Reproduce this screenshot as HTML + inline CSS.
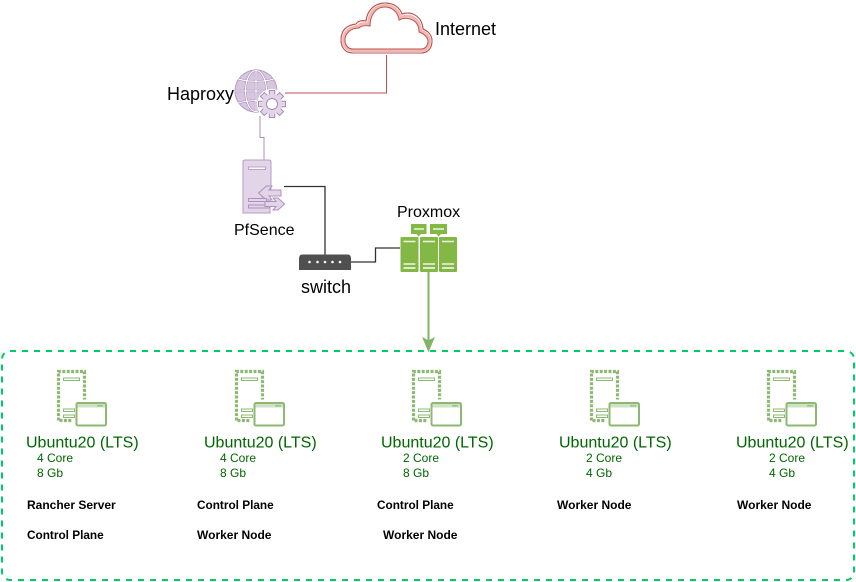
<!DOCTYPE html>
<html><head><meta charset="utf-8"><style>
html,body{margin:0;padding:0;background:#fff;width:856px;height:582px;overflow:hidden}
svg{display:block}
text{font-family:"Liberation Sans",sans-serif}
.g{fill:#006600}
.b{font-size:12px;font-weight:bold;fill:#000}
.c{font-size:11.800px;font-weight:bold;fill:#000}
.t{font-size:18px;fill:#000}
</style></head><body>
<svg width="856" height="582" viewBox="0 0 856 582" xmlns="http://www.w3.org/2000/svg">
<defs>
<g id="vm">
<path d="M0 49V0H26V28" fill="none" stroke="#8db873" stroke-width="3.200" stroke-dasharray="3 1.400"/>
<path d="M1 49H14" fill="none" stroke="#8db873" stroke-width="3.200" stroke-dasharray="3 1.400"/>
<rect x="5" y="6.500" width="16" height="2.500" fill="#fff" stroke="#8db873" stroke-width="1"/>
<rect x="5" y="37.500" width="11" height="2.500" fill="#fff" stroke="#8db873" stroke-width="1"/>
<rect x="5" y="43.500" width="11" height="2.500" fill="#fff" stroke="#8db873" stroke-width="1"/>
<rect x="18" y="31.500" width="29.500" height="22.500" rx="1.500" fill="#fff" stroke="#8db873" stroke-width="2"/>
<rect x="19" y="32.500" width="27.500" height="3.500" fill="#cfe2c2"/>
<path d="M39 34.200h6" stroke="#7aa660" stroke-width="1.500" stroke-dasharray="1.200 .8"/>
</g>
<g id="srv">
<rect x="0" y="0" width="18" height="35" rx="1" fill="#82b843"/>
<path d="M3 4.500H15M3 27H15" stroke="#eef5e4" stroke-width="1.400"/>
<path d="M3 31H15" stroke="#dfeccb" stroke-width="2"/>
</g>
<rect id="tooth" x="-2.800" y="-13.500" width="5.600" height="6" fill="#e1d5e7" stroke="#a084b0" stroke-width=".9"/>
</defs>

<!-- cloud -->
<path d="M353 53C344 53 341 46 341 40C341 31 346 25 356 24C358 21 361 20 366 21C367 11 374 3 385 3C394 3 400 8 402 14C410 11 422 15 423 29C430 32 432 36 432 41C432 48 428 53 421 53Z" fill="#fff" stroke="#b85450" stroke-width="1"/>
<path d="M353 50.500C347 50.500 343.500 46 343.500 40C343.500 33 349 27 358 26.500C360 24 363 23 368.500 24C369 13 375 5.500 385 5.500C393 5.500 399 11 400.500 17.500C408 14 420 17 420.500 31C427 33 429.500 37 429.500 41C429.500 47 426 50.500 421 50.500Z" fill="#fff" stroke="#f2b6b3" stroke-width="3"/>
<path d="M353 53C344 53 341 46 341 40C341 31 346 25 356 24C358 21 361 20 366 21C367 11 374 3 385 3C394 3 400 8 402 14C410 11 422 15 423 29C430 32 432 36 432 41C432 48 428 53 421 53Z" fill="none" stroke="#b85450" stroke-width="1"/>
<path d="M353 49C348 49 345 45 345 40C345 34 350 28 359 28C361 26 364 25 370 26C370 15 376 7 385 7C392 7 398 12 399 20C407 16 419 19 419 32C425 34 428 38 428 41C428 46 425 49 421 49Z" fill="#fff" stroke="#b85450" stroke-width="1"/>
<text x="435" y="35" class="t">Internet</text>

<!-- red connector -->
<path d="M285 93H386.500V55" fill="none" stroke="#b85450" stroke-width="1"/>

<!-- globe -->
<circle cx="256" cy="91" r="21" fill="#d6c6e0" stroke="#b79cc4" stroke-width="1"/>
<g fill="none" stroke="#a98bb8" stroke-width="2.200">
<ellipse cx="256" cy="91" rx="10.500" ry="20.500"/>
<path d="M256 70V112M235 91H277M238.500 79C247 82 265 82 273.500 79M238.500 103C247 100 265 100 273.500 103"/>
</g>
<g fill="none" stroke="#fff" stroke-width="1.100">
<ellipse cx="256" cy="91" rx="10.500" ry="20.500"/>
<path d="M256 70V112M235 91H277M238.500 79C247 82 265 82 273.500 79M238.500 103C247 100 265 100 273.500 103"/>
</g>
<!-- gear -->
<circle cx="272" cy="104" r="15" fill="#fff"/>
<g transform="translate(272,104)">
<use href="#tooth"/>
<use href="#tooth" transform="rotate(45)"/>
<use href="#tooth" transform="rotate(90)"/>
<use href="#tooth" transform="rotate(135)"/>
<use href="#tooth" transform="rotate(180)"/>
<use href="#tooth" transform="rotate(225)"/>
<use href="#tooth" transform="rotate(270)"/>
<use href="#tooth" transform="rotate(315)"/>
<circle r="10" fill="#e1d5e7"/>
<circle r="5.500" fill="#fff" stroke="#a084b0" stroke-width=".9"/>
</g>
<text x="167" y="100" class="t">Haproxy</text>

<!-- purple connector -->
<path d="M260 116V137.500H264V160" fill="none" stroke="#9673a6" stroke-width="1" opacity=".8"/>

<!-- pfsense -->
<path d="M245 160H269Q271 160 271 162V190H262V197H270V213H243V162Q243 160 245 160Z" fill="#e1d5e7" stroke="#b79cc4" stroke-width="1"/>
<rect x="248.500" y="167" width="17" height="2.500" fill="#fff" stroke="#b79cc4" stroke-width=".9"/>
<g fill="#e1d5e7" stroke="#b090c0" stroke-width="1">
<path d="M281 190H269L272 186H266.500L258.500 193L266.500 200H272L269 196H281Z"/>
<rect x="248.500" y="198.500" width="18" height="3"/>
<rect x="248.500" y="205" width="21" height="3"/>
<path d="M265 201.500H276L273 198H278L284.500 204L278 210H273L276 206.500H265Z"/>
</g>
<text x="234" y="235" style="font-size:16px;fill:#000">PfSence</text>

<!-- black connectors -->
<path d="M284 186.500H325V255" fill="none" stroke="#333" stroke-width="1.300"/>
<path d="M350 262H375.500V248H400" fill="none" stroke="#333" stroke-width="1.300"/>

<!-- switch -->
<path d="M302 254.500H348Q350.500 254.500 351 258L351 270H299V258Q299.500 254.500 302 254.500Z" fill="#505050"/>
<g fill="#fff"><circle cx="309.500" cy="262" r="1.300"/><circle cx="317.500" cy="262" r="1.300"/><circle cx="325" cy="262" r="1.300"/><circle cx="332.500" cy="262" r="1.300"/><circle cx="340" cy="262" r="1.300"/></g>
<text x="301" y="293" class="t">switch</text>

<!-- proxmox -->
<text x="397" y="217" style="font-size:16px;fill:#000">Proxmox</text>
<path d="M411 224H426.500V234H421L418.500 236.500L416.500 234H411Z" fill="#82b843"/>
<path d="M430 224H447V234H441L438.500 236.500L436.500 234H430Z" fill="#82b843"/>
<path d="M414 229H424M433 229H444" stroke="#eef5e4" stroke-width="1.400"/>
<use href="#srv" x="400.500" y="237"/>
<use href="#srv" x="420" y="237"/>
<use href="#srv" x="439" y="237"/>

<!-- dashed container -->
<rect x="2" y="351" width="852" height="229" rx="8" fill="none" stroke="#00cc66" stroke-width="2" stroke-dasharray="6 6"/>

<!-- green arrow -->
<path d="M428.500 272V342" fill="none" stroke="#82b366" stroke-width="2"/>
<path d="M423 338L428.500 351L434 338L428.500 341Z" fill="#82b366" stroke="#82b366"/>

<!-- VMs -->
<use href="#vm" x="58.500" y="371.500"/>
<use href="#vm" x="236.500" y="371.500"/>
<use href="#vm" x="413.500" y="371.500"/>
<use href="#vm" x="591.500" y="371.500"/>
<use href="#vm" x="768.500" y="371.500"/>

<g style="font-size:16px" class="g">
<text x="26" y="447.500">Ubuntu20 (LTS)</text>
<text x="204" y="447.500">Ubuntu20 (LTS)</text>
<text x="381" y="447.500">Ubuntu20 (LTS)</text>
<text x="559" y="447.500">Ubuntu20 (LTS)</text>
<text x="736" y="447.500">Ubuntu20 (LTS)</text>
</g>
<g style="font-size:12px" class="g">
<text x="37" y="462">4 Core</text><text x="37" y="477">8 Gb</text>
<text x="220" y="462">4 Core</text><text x="220" y="477">8 Gb</text>
<text x="403" y="462">2 Core</text><text x="403" y="477">8 Gb</text>
<text x="586" y="462">2 Core</text><text x="586" y="477">4 Gb</text>
<text x="769" y="462">2 Core</text><text x="769" y="477">4 Gb</text>
</g>
<text x="27" y="509" class="b">Rancher Server</text>
<text x="27" y="539" class="c">Control Plane</text>
<text x="197" y="509" class="c">Control Plane</text>
<text x="197" y="539" class="b">Worker Node</text>
<text x="377" y="509" class="c">Control Plane</text>
<text x="383" y="539" class="b">Worker Node</text>
<text x="557" y="509" class="b">Worker Node</text>
<text x="737" y="509" class="b">Worker Node</text>
</svg>
</body></html>
